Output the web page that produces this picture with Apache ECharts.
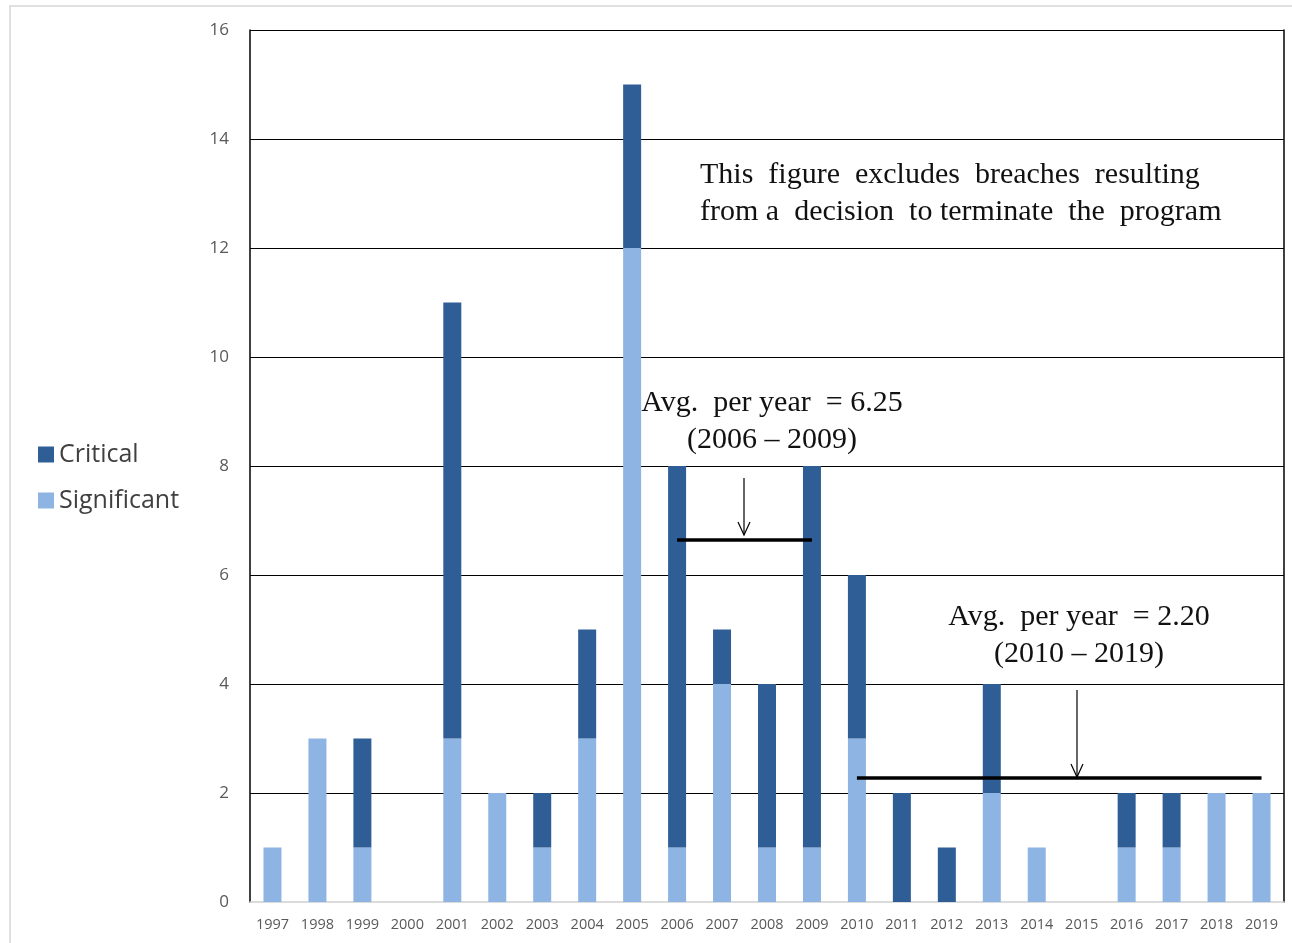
<!DOCTYPE html>
<html>
<head>
<meta charset="utf-8">
<script src="https://cdn.jsdelivr.net/npm/echarts@6/dist/echarts.min.js"></script>
<style>
  html, body { margin: 0; padding: 0; background: #fff; }
  #chart { width: 1292px; height: 943px; }
</style>
</head>
<body>
<div id="chart"></div>
<script>
// years on the x axis
var years = ['1997', '1998', '1999', '2000', '2001', '2002', '2003', '2004', '2005', '2006', '2007', '2008',
  '2009', '2010', '2011', '2012', '2013', '2014', '2015', '2016', '2017', '2018', '2019'];
// breaches per year
var significant = [1, 3, 1, 0, 3, 2, 1, 3, 12, 1, 4, 1, 1, 3, 0, 0, 2, 1, 0, 1, 1, 2, 2];
var critical    = [0, 0, 2, 0, 8, 0, 1, 2, 3, 7, 1, 3, 7, 3, 2, 1, 2, 0, 0, 1, 1, 0, 0];
// average lines: [from year, to year, level]
var avgEarly = ['2006', '2009', 6.65];
var avgLate = ['2010', '2019', 2.28];

var darkBlue = '#2f5e97';
var lightBlue = '#8db4e3';
var serif = '"Liberation Serif", "DejaVu Serif", serif';
var sans = '"Open Sans", "Liberation Sans", sans-serif';

var chart = echarts.init(document.getElementById('chart'));

function arrow(x, y1, y2) {
  return [
    { type: 'line', shape: { x1: x, y1: y1, x2: x, y2: y2 }, style: { stroke: '#000', lineWidth: 1.2 } },
    { type: 'polyline', shape: { points: [[x - 6, y2 - 13], [x, y2], [x + 6, y2 - 13]] },
      style: { stroke: '#000', lineWidth: 1.2, fill: null } }
  ];
}

chart.setOption({
  animation: false,
  grid: { left: 250, right: 8, top: 30, bottom: 41 },
  legend: {
    orient: 'vertical',
    left: 33,
    top: 437,
    itemWidth: 16,
    itemHeight: 16,
    itemGap: 21,
    icon: 'rect',
    data: ['Critical', 'Significant'],
    textStyle: { fontFamily: sans, fontSize: 25, color: '#404040' }
  },
  xAxis: {
    type: 'category',
    data: years,
    axisLine: { lineStyle: { color: '#d0d0d0', width: 1.5 } },
    axisTick: { show: false },
    axisLabel: { fontFamily: sans, fontSize: 14.5, color: '#595959', margin: 15 }
  },
  yAxis: [{
    type: 'value',
    min: 0,
    max: 16,
    interval: 2,
    axisLine: { show: true, lineStyle: { color: '#000', width: 1.5 } },
    axisTick: { show: false },
    axisLabel: { fontFamily: sans, fontSize: 17, color: '#595959', margin: 21 },
    splitLine: { showMinLine: false, lineStyle: { color: '#000', width: 1.2 } }
  }, {
    type: 'value',
    min: 0,
    max: 16,
    position: 'right',
    axisLine: { show: true, lineStyle: { color: '#000', width: 1.5 } },
    axisTick: { show: false },
    axisLabel: { show: false },
    splitLine: { show: false }
  }],
  series: [{
    name: 'Significant',
    type: 'bar',
    stack: 'total',
    barWidth: 18,
    itemStyle: { color: lightBlue },
    data: significant
  }, {
    name: 'Critical',
    type: 'bar',
    stack: 'total',
    barWidth: 18,
    itemStyle: { color: darkBlue },
    data: critical,
    markLine: {
      silent: true,
      symbol: 'none',
      label: { show: false },
      lineStyle: { color: '#000', width: 3.5, type: 'solid' },
      data: [
        [{ coord: [avgEarly[0], avgEarly[2]] }, { coord: [avgEarly[1], avgEarly[2]] }],
        [{ coord: [avgLate[0], avgLate[2]] }, { coord: [avgLate[1], avgLate[2]] }]
      ]
    }
  }],
  graphic: [
    { type: 'rect', shape: { x: 10, y: 6, width: 1290, height: 950 }, style: { fill: null, stroke: '#e0e0e0', lineWidth: 2 }, z: -10 },
    { type: 'text', left: 700, top: 160, style: {
      text: 'This  figure  excludes  breaches  resulting',
      font: '30px ' + serif, fill: '#111' } },
    { type: 'text', left: 700, top: 197, style: {
      text: 'from a  decision  to terminate  the  program',
      font: '30px ' + serif, fill: '#111' } },
    { type: 'text', x: 772, y: 385, style: {
      text: 'Avg.  per year  = 6.25\n(2006 – 2009)', align: 'center',
      font: '30px ' + serif, fill: '#111', lineHeight: 37 } },
    { type: 'text', x: 1079, y: 599, style: {
      text: 'Avg.  per year  = 2.20\n(2010 – 2019)', align: 'center',
      font: '30px ' + serif, fill: '#111', lineHeight: 37 } }
  ].concat(arrow(744, 478, 535), arrow(1077, 690, 777))
});
</script>
</body>
</html>
